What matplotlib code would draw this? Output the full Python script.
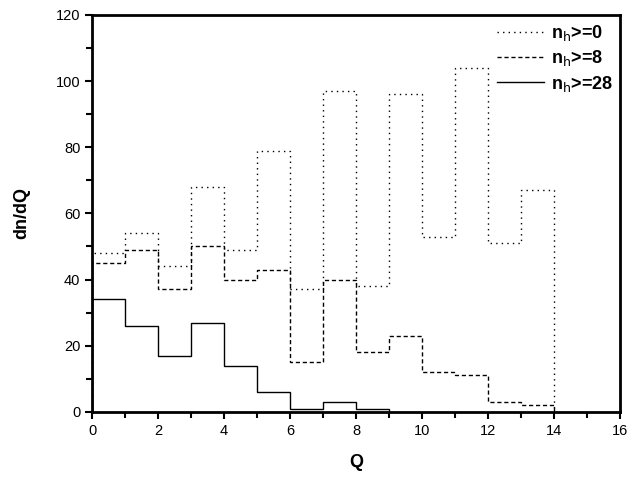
import numpy as np
import matplotlib
matplotlib.use('Agg')
import matplotlib.pyplot as plt
from matplotlib.ticker import MultipleLocator

plt.rcParams['font.family'] = ['Liberation Sans', 'DejaVu Sans']

# histogrammes dn/dQ, bins de largeur 1
edges_all = np.arange(0, 15)
nh0 = [48, 54, 44, 68, 49, 79, 37, 97, 38, 96, 53, 104, 51, 67]
nh8 = [45, 49, 37, 50, 40, 43, 15, 40, 18, 23, 12, 11, 3, 2]
edges_28 = np.arange(0, 10)
nh28 = [34, 26, 17, 27, 14, 6, 1, 3, 1]

labels = [r'n$_{\rm h}$>=0', r'n$_{\rm h}$>=8', r'n$_{\rm h}$>=28']

fig = plt.figure(figsize=(6.4, 4.8), dpi=100)
ax = fig.add_axes([0.144, 0.142, 0.825, 0.827])

ax.stairs(nh0, edges_all, baseline=0, color='black', lw=1, linestyle=(0, (1, 3)), label=labels[0])
ax.stairs(nh8, edges_all, baseline=0, color='black', lw=1, linestyle=(0, (3, 2)), label=labels[1])
ax.stairs(nh28, edges_28, baseline=0, color='black', lw=1, linestyle='-', label=labels[2])

ax.set_xlim(0, 16)
ax.set_ylim(0, 120)
ax.xaxis.set_major_locator(MultipleLocator(2))
ax.xaxis.set_minor_locator(MultipleLocator(1))
ax.yaxis.set_major_locator(MultipleLocator(20))
ax.yaxis.set_minor_locator(MultipleLocator(10))
ax.tick_params(which='major', direction='out', length=5, width=1.5, labelsize=10.5)
ax.tick_params(which='minor', direction='out', length=4, width=1.5)
for s in ax.spines.values():
    s.set_linewidth(2)

ax.set_xlabel('Q', fontsize=13, fontweight='bold', labelpad=12)
ax.set_ylabel('dn/dQ', fontsize=13, fontweight='bold', labelpad=18)

leg = ax.legend(loc='upper right', frameon=False, prop={'size': 13, 'weight': 'bold'},
                handlelength=2.6, labelspacing=0.3, borderaxespad=0.0,
                handletextpad=0.4, bbox_to_anchor=(1.0, 0.998))

plt.savefig('out.png', dpi=100)
